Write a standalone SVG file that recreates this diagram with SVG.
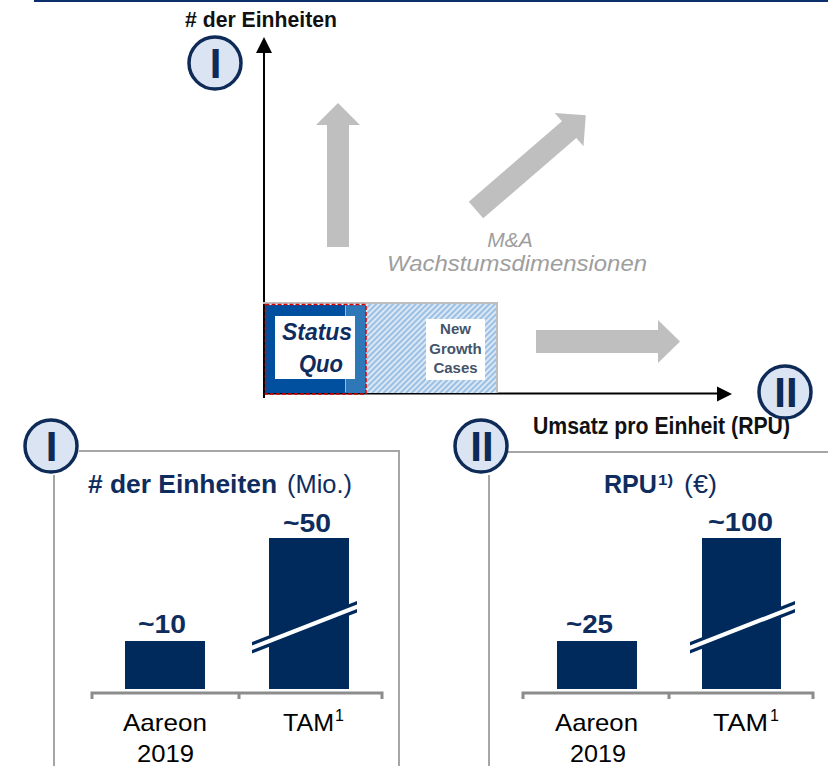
<svg xmlns="http://www.w3.org/2000/svg" width="828" height="766" viewBox="0 0 828 766">
<style>
  text { font-family: "Liberation Sans", Arial, sans-serif; }
  .ax { font-weight: bold; fill: #111; }
  .ga { fill: #bfbfbf; }
  .circ { fill: #dbe4f3; stroke: #0e2a57; stroke-width: 3.5; }
  .cnum { font-weight: bold; font-size: 42px; fill: #0e2a57; text-anchor: middle; }
  .bar { fill: #002a5c; }
  .panel { fill: none; stroke: #a6a6a6; stroke-width: 2; }
  .base { fill: none; stroke: #8c8c8c; stroke-width: 3; }
  .ttl { fill: #0e2d5e; font-size: 25px; }
  .val { fill: #0e2d5e; font-size: 26px; font-weight: bold; }
  .lbl { fill: #000; font-size: 24px; }
  .brk { fill: #002a5c; }
  .brkw { fill: #fff; }
</style>
<defs>
  <pattern id="hatch" width="4" height="4" patternUnits="userSpaceOnUse" patternTransform="rotate(45)">
    <rect width="4" height="4" fill="#dae7f5"/>
    <rect width="2" height="4" fill="#9bc0e4"/>
  </pattern>
</defs>

<line x1="34" y1="1" x2="828" y2="1" stroke="#0b2f6b" stroke-width="2"/>

<g id="connectors">
  <path d="M264,398 L264,52" stroke="#000" stroke-width="2" fill="none"/>
  <polygon points="264,37 256,53 272,53" fill="#000"/>
  <path d="M263,393.5 L718,393.5" stroke="#000" stroke-width="2" fill="none"/>
  <polygon points="732,394 717,386.5 717,401.5" fill="#000"/>
</g>

<g id="axis-labels">
  <text class="ax" x="185" y="27" font-size="21.5" textLength="152" lengthAdjust="spacingAndGlyphs"># der Einheiten</text>
  <text class="ax" x="533" y="434" font-size="23" textLength="257" lengthAdjust="spacingAndGlyphs">Umsatz pro Einheit (RPU)</text>
</g>

<g id="growth-arrows">
  <polygon class="ga" points="327,247 327,125 316,125 338,103 360,125 349,125 349,247"/>
  <polygon class="ga" transform="translate(476,210) rotate(-40.8)" points="0,-11 123,-11 123,-22 145,0 123,22 123,11 0,11"/>
  <polygon class="ga" points="536,330 658,330 658,320 680,341.5 658,363 658,353 536,353"/>
  <text x="510" y="247" font-size="21" font-style="italic" fill="#9e9e9e" text-anchor="middle">M&amp;A</text>
  <text x="387" y="271" font-size="22" font-style="italic" fill="#9e9e9e" textLength="260" lengthAdjust="spacingAndGlyphs">Wachstumsdimensionen</text>
</g>

<g id="new-growth">
  <rect x="366" y="304" width="131" height="89" fill="url(#hatch)"/>
  <path d="M263,303 L497,303 L497,393" fill="none" stroke="#bfbfbf" stroke-width="2"/>
  <rect x="426" y="319" width="59" height="61" fill="#fff"/>
  <text x="455.5" y="334" font-size="15" font-weight="bold" fill="#44546a" text-anchor="middle">New</text>
  <text x="455.5" y="354" font-size="15" font-weight="bold" fill="#44546a" text-anchor="middle">Growth</text>
  <text x="455.5" y="373" font-size="15" font-weight="bold" fill="#44546a" text-anchor="middle">Cases</text>
</g>

<g id="status-quo">
  <rect x="265" y="305" width="80" height="88" fill="#00509f"/>
  <rect x="345.5" y="305" width="20.5" height="88" fill="#2e78b8"/>
  <rect x="275" y="316" width="80" height="63" fill="#fff"/>
  <text x="282" y="340" font-size="23" font-weight="bold" font-style="italic" fill="#0e2d5e" textLength="70" lengthAdjust="spacingAndGlyphs">Status</text>
  <text x="299" y="372" font-size="23" font-weight="bold" font-style="italic" fill="#0e2d5e" textLength="44" lengthAdjust="spacingAndGlyphs">Quo</text>
  <rect x="265.5" y="304.5" width="100.5" height="89.5" fill="none" stroke="#e00000" stroke-width="1.5" stroke-dasharray="4 2"/>
</g>

<g id="circle-top-I">
  <circle class="circ" cx="215" cy="63" r="26"/>
  <text class="cnum" x="215.5" y="78">I</text>
</g>
<g id="circle-top-II">
  <circle class="circ" cx="785" cy="392" r="26"/>
  <text class="cnum" x="786" y="407">II</text>
</g>

<g id="panel-units">
  <path class="panel" d="M54,475 L54,770 M79,451 L399,451 L399,770"/>
  <text class="ttl" x="88" y="493" font-weight="bold" textLength="189" lengthAdjust="spacingAndGlyphs"># der Einheiten</text>
  <text class="ttl" x="287" y="493" textLength="65" lengthAdjust="spacingAndGlyphs">(Mio.)</text>
  <rect class="bar" x="125" y="641" width="80" height="48"/>
  <rect class="bar" x="269" y="538" width="80" height="151"/>
  <polygon class="brk" points="252,642 357,601 357,612.5 252,653.5"/>
  <polygon class="brkw" points="252,645.5 357,604.5 357,609 252,650"/>
  <text class="val" x="138" y="633" textLength="48" lengthAdjust="spacingAndGlyphs">~10</text>
  <text class="val" x="283" y="532" textLength="48" lengthAdjust="spacingAndGlyphs">~50</text>
  <path class="base" d="M92,699 L92,693 L382,693 L382,699 M239,693 L239,699"/>
  <text class="lbl" x="123" y="731" textLength="84" lengthAdjust="spacingAndGlyphs">Aareon</text>
  <text class="lbl" x="137" y="762" textLength="57" lengthAdjust="spacingAndGlyphs">2019</text>
  <text class="lbl" x="283" y="731" textLength="51" lengthAdjust="spacingAndGlyphs">TAM</text>
  <text x="335" y="721" font-size="16" fill="#000">1</text>
  <circle class="circ" cx="51" cy="446" r="26"/>
  <text class="cnum" x="51.5" y="461">I</text>
</g>

<g id="panel-rpu">
  <path class="panel" d="M489,475 L489,770 M508,452 L830,452"/>
  <text class="ttl" x="604" y="493" font-weight="bold" textLength="53" lengthAdjust="spacingAndGlyphs">RPU</text>
  <text x="658" y="485" font-size="14" font-weight="bold" fill="#0e2d5e" textLength="15" lengthAdjust="spacingAndGlyphs">1)</text>
  <text class="ttl" x="684" y="493" textLength="33" lengthAdjust="spacingAndGlyphs">(€)</text>
  <rect class="bar" x="557" y="641" width="80" height="48"/>
  <rect class="bar" x="702" y="538" width="79" height="151"/>
  <polygon class="brk" points="690,642 795,601 795,612.5 690,653.5"/>
  <polygon class="brkw" points="690,645.5 795,604.5 795,609 690,650"/>
  <text class="val" x="566" y="633" textLength="47" lengthAdjust="spacingAndGlyphs">~25</text>
  <text class="val" x="708" y="531" textLength="65" lengthAdjust="spacingAndGlyphs">~100</text>
  <path class="base" d="M523,699 L523,693 L813,693 L813,699 M669,693 L669,699"/>
  <text class="lbl" x="555" y="731" textLength="83" lengthAdjust="spacingAndGlyphs">Aareon</text>
  <text class="lbl" x="570" y="762" textLength="56" lengthAdjust="spacingAndGlyphs">2019</text>
  <text class="lbl" x="713" y="731" textLength="55" lengthAdjust="spacingAndGlyphs">TAM</text>
  <text x="770" y="721" font-size="16" fill="#000">1</text>
  <circle class="circ" cx="481" cy="446" r="26"/>
  <text class="cnum" x="482" y="461">II</text>
</g>
</svg>
